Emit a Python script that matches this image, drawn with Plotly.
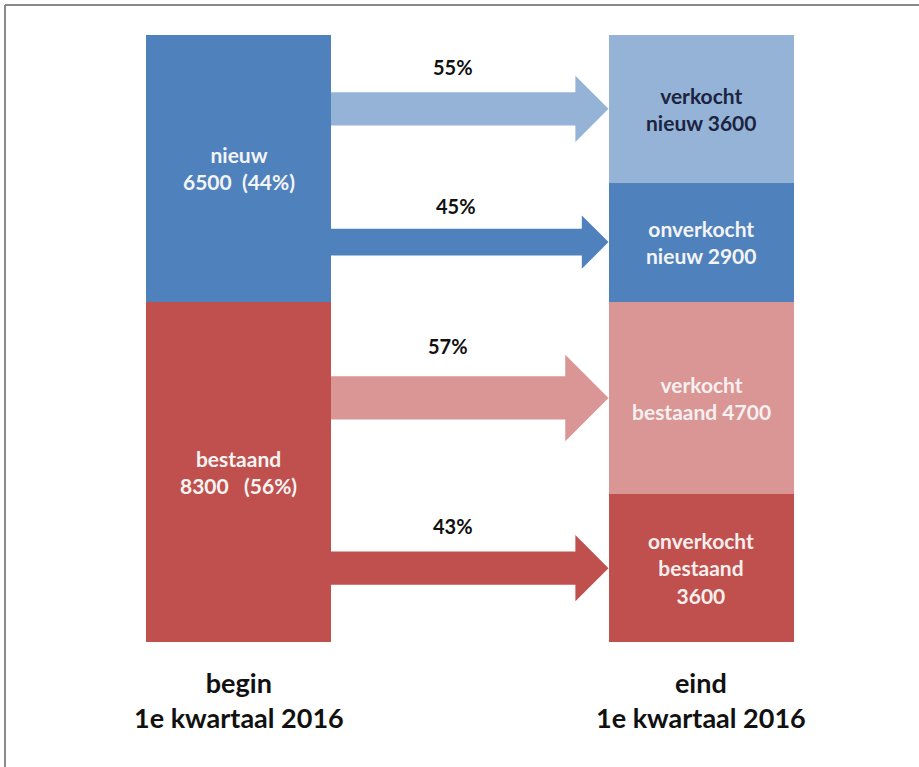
import plotly.graph_objects as go

# Woningvoorraad: begin vs. eind van het 1e kwartaal 2016
groups = ["nieuw", "bestaand"]
group_totals = [6500, 8300]

end_segments = ["verkocht nieuw", "onverkocht nieuw", "verkocht bestaand", "onverkocht bestaand"]
end_values = [3600, 2900, 4700, 3600]
end_source = ["nieuw", "nieuw", "bestaand", "bestaand"]

column_labels = ["begin<br>1e kwartaal 2016", "eind<br>1e kwartaal 2016"]

# --- styling -------------------------------------------------------------
W, H = 919, 767
M_T, M_B = 35, 125
PLOT_H = H - M_T - M_B
PX_PER_X = 462.5          # pixels between the two column centres
LEFT_CENTER_PX = 238.5
BAR_W = 0.4
FONT = "Lato"

DARK_BLUE, LIGHT_BLUE = "#4f81bd", "#95b3d7"
DARK_RED, LIGHT_RED = "#c0504d", "#d99694"

group_colors = {"nieuw": DARK_BLUE, "bestaand": DARK_RED}
seg_colors = [LIGHT_BLUE, DARK_BLUE, LIGHT_RED, DARK_RED]
seg_text_colors = ["#1b2440", "#f4f4f4", "#f7f0f0", "#f7eeee"]
seg_text = [
    "verkocht<br>nieuw 3600",
    "onverkocht<br>nieuw 2900",
    "verkocht<br>bestaand 4700",
    "onverkocht<br>bestaand<br>3600",
]

total = sum(group_totals)
px_per_y = PLOT_H / total
x_range = [-LEFT_CENTER_PX / PX_PER_X, (W - LEFT_CENTER_PX) / PX_PER_X]

fig = go.Figure()

# begin column: bestaand at the bottom, nieuw on top
group_base = {}
base = 0
for g, v in reversed(list(zip(groups, group_totals))):
    group_base[g] = base
    fig.add_trace(go.Bar(x=[0], y=[v], base=[base], width=BAR_W,
                         marker=dict(color=group_colors[g], line=dict(width=0)),
                         hoverinfo="skip", showlegend=False))
    base += v

# eind column: stacked from the bottom in reverse order
seg_base = [0] * len(end_values)
base = 0
for i in reversed(range(len(end_values))):
    seg_base[i] = base
    fig.add_trace(go.Bar(x=[1], y=[end_values[i]], base=[base], width=BAR_W,
                         marker=dict(color=seg_colors[i], line=dict(width=0)),
                         hoverinfo="skip", showlegend=False))
    base += end_values[i]

annotations = []
BAR_FONT = 21

# begin column labels
for g, v in zip(groups, group_totals):
    pct = round(100 * v / total)
    sep = "\u00a0\u00a0" if g == "nieuw" else "\u00a0\u00a0\u00a0"
    annotations.append(dict(
        x=0, y=group_base[g] + v / 2, xref="x", yref="y",
        text=f"<b>{g}<br>{v}{sep}({pct}%)</b>", showarrow=False,
        font=dict(family=FONT, size=BAR_FONT, color="#f4f4f4"), align="center"))

# eind column labels
for i, v in enumerate(end_values):
    annotations.append(dict(
        x=1, y=seg_base[i] + v / 2, xref="x", yref="y",
        text=f"<b>{seg_text[i]}</b>", showarrow=False,
        font=dict(family=FONT, size=BAR_FONT, color=seg_text_colors[i]), align="center"))

# flow arrows, shaft thickness proportional to the flow
SHAFT_PX_PER_UNIT = 0.0092
x_start = 0 + BAR_W / 2
x_tip = 1 - BAR_W / 2
for i, v in enumerate(end_values):
    yc = seg_base[i] + v / 2
    shaft_px = v * SHAFT_PX_PER_UNIT
    half_shaft = shaft_px / 2 / px_per_y
    half_head = shaft_px / px_per_y
    x_head = x_tip - shaft_px / PX_PER_X
    xs = [x_start, x_head, x_head, x_tip, x_head, x_head, x_start, x_start]
    ys = [yc + half_shaft, yc + half_shaft, yc + half_head, yc,
          yc - half_head, yc - half_shaft, yc - half_shaft, yc + half_shaft]
    fig.add_trace(go.Scatter(x=xs, y=ys, mode="lines", fill="toself",
                             fillcolor=seg_colors[i], line=dict(width=0),
                             hoverinfo="skip", showlegend=False))
    src_total = group_totals[groups.index(end_source[i])]
    pct = round(100 * v / src_total)
    annotations.append(dict(
        x=(x_start + x_head) / 2, y=yc + half_head, xref="x", yref="y",
        yanchor="bottom", yshift=-5,
        text=f"<b>{pct}%</b>", showarrow=False,
        font=dict(family=FONT, size=20, color="#111111")))

# column titles below the bars (paper coordinates, below the plot area)
for xi, lab in enumerate(column_labels):
    annotations.append(dict(
        x=xi, y=-(22 / PLOT_H), xref="x", yref="paper", yanchor="top",
        text=f"<b>{lab}</b>", showarrow=False, align="center",
        font=dict(family=FONT, size=27, color="#111111")))

# thin frame on the top and left edges
frame_shapes = [
    dict(type="line", xref="paper", yref="paper", x0=5 / W, x1=1.0,
         y0=1 + (M_T - 5) / PLOT_H, y1=1 + (M_T - 5) / PLOT_H,
         line=dict(color="#8a8a8a", width=2)),
    dict(type="line", xref="paper", yref="paper", x0=5 / W, x1=5 / W,
         y0=1 + (M_T - 5) / PLOT_H, y1=-(M_B + 5) / PLOT_H,
         line=dict(color="#8a8a8a", width=2)),
]

fig.update_layout(
    width=W, height=H,
    margin=dict(l=0, r=0, t=M_T, b=M_B),
    paper_bgcolor="white", plot_bgcolor="white",
    barmode="overlay", bargap=0,
    xaxis=dict(range=x_range, visible=False, fixedrange=True),
    yaxis=dict(range=[0, total], visible=False, fixedrange=True),
    annotations=annotations,
    shapes=frame_shapes,
)

fig.write_html("out.html")
